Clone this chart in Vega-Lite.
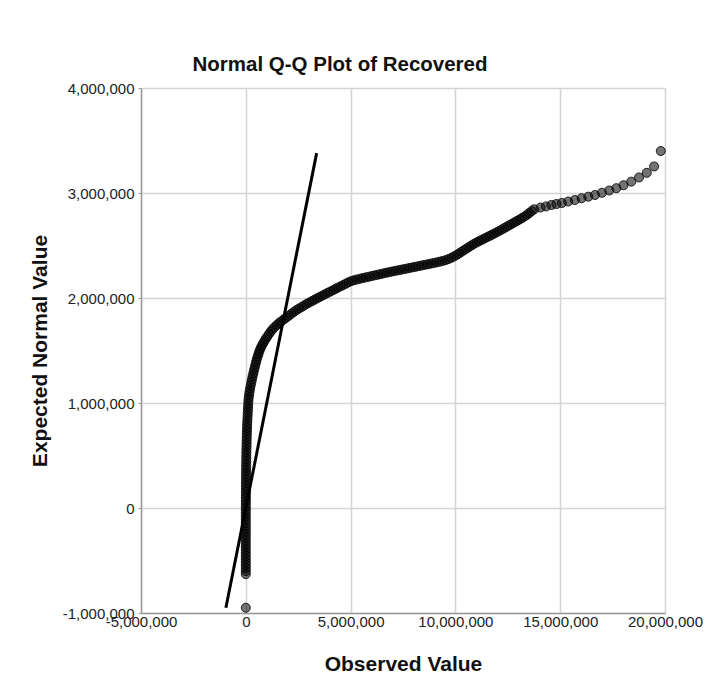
{
  "$schema": "https://vega.github.io/schema/vega-lite/v6.json",
  "autosize": {"type": "none"},
  "width": 524,
  "height": 525,
  "padding": {"left": 141, "top": 88, "right": 40, "bottom": 76},
  "background": "white",
  "title": {
    "text": "Normal Q-Q Plot of Recovered",
    "font": "Liberation Sans",
    "fontSize": 20.5,
    "fontWeight": "bold",
    "color": "#111111",
    "anchor": "middle",
    "dx": -63,
    "offset": 6
  },
  "config": {
    "view": {"stroke": null},
    "axis": {
      "labelFont": "Liberation Sans",
      "labelFontSize": 15,
      "labelColor": "#222222",
      "labelOverlap": false,
      "labelBound": false,
      "labelFlush": false,
      "titleFont": "Liberation Sans",
      "titleFontSize": 21,
      "titleFontWeight": "bold",
      "titleColor": "#111111",
      "domainColor": "#9a9a9a",
      "domainWidth": 1.5,
      "gridColor": "#d4d4d4",
      "gridWidth": 1.5,
      "tickColor": "#9a9a9a"
    }
  },
  "datasets": {
    "refline": [
      {"obs": -950000, "exp": -950000},
      {"obs": 3380000, "exp": 3380000}
    ],
    "qq": [
      {"obs":0,"exp":-950000},
      {"obs":0,"exp":-630000},{"obs":0,"exp":-601000},{"obs":0,"exp":-572000},{"obs":0,"exp":-543000},{"obs":0,"exp":-514000},{"obs":0,"exp":-485000},{"obs":0,"exp":-456000},{"obs":0,"exp":-427000},{"obs":0,"exp":-398000},{"obs":0,"exp":-369000},{"obs":0,"exp":-340000},{"obs":0,"exp":-311000},{"obs":0,"exp":-282000},{"obs":0,"exp":-253000},{"obs":0,"exp":-224000},{"obs":0,"exp":-195000},{"obs":0,"exp":-166000},{"obs":0,"exp":-137000},{"obs":0,"exp":-108000},{"obs":0,"exp":-79000},{"obs":0,"exp":-50000},{"obs":0,"exp":-21000},
      {"obs":1000,"exp":8000},{"obs":2000,"exp":37000},{"obs":3000,"exp":66000},{"obs":4000,"exp":95000},{"obs":5000,"exp":124000},{"obs":6000,"exp":153000},{"obs":7000,"exp":182000},{"obs":8000,"exp":211000},{"obs":9000,"exp":240000},{"obs":10000,"exp":269000},{"obs":12000,"exp":298000},{"obs":13000,"exp":327000},{"obs":15000,"exp":356000},{"obs":17000,"exp":385000},{"obs":19000,"exp":414000},{"obs":21000,"exp":443000},{"obs":23000,"exp":472000},{"obs":25000,"exp":501000},{"obs":28000,"exp":530000},{"obs":31000,"exp":559000},{"obs":34000,"exp":588000},{"obs":37000,"exp":617000},{"obs":41000,"exp":646000},{"obs":45000,"exp":675000},{"obs":49000,"exp":704000},{"obs":54000,"exp":733000},{"obs":59000,"exp":762000},{"obs":65000,"exp":791000},{"obs":71000,"exp":820000},{"obs":78000,"exp":849000},{"obs":85000,"exp":878000},{"obs":93000,"exp":907000},{"obs":101000,"exp":936000},{"obs":110000,"exp":965000},{"obs":119000,"exp":994000},
      {"obs":125000,"exp":1023000},{"obs":140000,"exp":1052000},{"obs":160000,"exp":1081000},{"obs":180000,"exp":1110000},{"obs":205000,"exp":1139000},{"obs":235000,"exp":1168000},{"obs":265000,"exp":1197000},{"obs":295000,"exp":1226000},{"obs":325000,"exp":1254000},{"obs":358000,"exp":1282000},{"obs":390000,"exp":1310000},{"obs":425000,"exp":1338000},{"obs":460000,"exp":1366000},{"obs":495000,"exp":1393000},
      {"obs":530000,"exp":1420000},{"obs":570000,"exp":1445000},{"obs":610000,"exp":1470000},{"obs":650000,"exp":1495000},{"obs":700000,"exp":1518000},{"obs":750000,"exp":1540000},{"obs":810000,"exp":1563000},{"obs":880000,"exp":1587000},{"obs":950000,"exp":1610000},{"obs":1020000,"exp":1632000},{"obs":1100000,"exp":1655000},{"obs":1180000,"exp":1678000},{"obs":1270000,"exp":1700000},{"obs":1370000,"exp":1722000},{"obs":1480000,"exp":1743000},{"obs":1590000,"exp":1763000},
      {"obs":1700000,"exp":1779000},{"obs":1820000,"exp":1797000},{"obs":1930000,"exp":1813000},{"obs":2050000,"exp":1831000},{"obs":2170000,"exp":1849000},{"obs":2290000,"exp":1867000},{"obs":2420000,"exp":1886000},{"obs":2540000,"exp":1900000},{"obs":2670000,"exp":1915000},{"obs":2790000,"exp":1930000},{"obs":2920000,"exp":1945000},{"obs":3040000,"exp":1958000},{"obs":3170000,"exp":1972000},{"obs":3290000,"exp":1985000},{"obs":3410000,"exp":1998000},{"obs":3530000,"exp":2010000},
      {"obs":3660000,"exp":2023000},{"obs":3780000,"exp":2036000},{"obs":3910000,"exp":2049000},{"obs":4030000,"exp":2061000},{"obs":4160000,"exp":2074000},{"obs":4280000,"exp":2087000},{"obs":4400000,"exp":2099000},{"obs":4530000,"exp":2112000},{"obs":4650000,"exp":2124000},{"obs":4780000,"exp":2137000},{"obs":4900000,"exp":2150000},
      {"obs":5040000,"exp":2162000},{"obs":5180000,"exp":2170000},{"obs":5320000,"exp":2177000},{"obs":5460000,"exp":2184000},{"obs":5600000,"exp":2191000},{"obs":5740000,"exp":2197000},{"obs":5880000,"exp":2203000},{"obs":6020000,"exp":2210000},{"obs":6160000,"exp":2216000},{"obs":6300000,"exp":2222000},{"obs":6440000,"exp":2228000},{"obs":6580000,"exp":2235000},{"obs":6720000,"exp":2241000},{"obs":6860000,"exp":2247000},{"obs":7000000,"exp":2253000},{"obs":7140000,"exp":2259000},{"obs":7280000,"exp":2264000},{"obs":7420000,"exp":2270000},{"obs":7560000,"exp":2275000},{"obs":7700000,"exp":2281000},{"obs":7840000,"exp":2287000},{"obs":7980000,"exp":2293000},{"obs":8120000,"exp":2298000},{"obs":8260000,"exp":2304000},{"obs":8400000,"exp":2310000},{"obs":8540000,"exp":2316000},{"obs":8680000,"exp":2321000},{"obs":8820000,"exp":2327000},{"obs":8960000,"exp":2333000},{"obs":9100000,"exp":2339000},{"obs":9240000,"exp":2345000},{"obs":9380000,"exp":2352000},{"obs":9520000,"exp":2360000},{"obs":9660000,"exp":2370000},{"obs":9800000,"exp":2382000},{"obs":9930000,"exp":2395000},
      {"obs":10060000,"exp":2410000},{"obs":10180000,"exp":2425000},{"obs":10300000,"exp":2441000},{"obs":10420000,"exp":2457000},{"obs":10540000,"exp":2472000},{"obs":10660000,"exp":2487000},{"obs":10780000,"exp":2502000},{"obs":10900000,"exp":2517000},{"obs":11020000,"exp":2530000},{"obs":11140000,"exp":2542000},{"obs":11260000,"exp":2554000},{"obs":11380000,"exp":2566000},{"obs":11500000,"exp":2578000},{"obs":11620000,"exp":2590000},{"obs":11740000,"exp":2602000},{"obs":11860000,"exp":2614000},{"obs":11980000,"exp":2627000},{"obs":12100000,"exp":2640000},{"obs":12220000,"exp":2653000},{"obs":12340000,"exp":2667000},{"obs":12460000,"exp":2680000},{"obs":12580000,"exp":2694000},{"obs":12700000,"exp":2707000},{"obs":12820000,"exp":2721000},{"obs":12940000,"exp":2734000},{"obs":13060000,"exp":2748000},{"obs":13180000,"exp":2762000},{"obs":13300000,"exp":2777000},{"obs":13420000,"exp":2793000},{"obs":13530000,"exp":2810000},{"obs":13640000,"exp":2828000},
      {"obs":13760000,"exp":2845000},{"obs":14060000,"exp":2862000},{"obs":14320000,"exp":2872000},{"obs":14580000,"exp":2886000},{"obs":14820000,"exp":2895000},{"obs":15080000,"exp":2905000},{"obs":15380000,"exp":2919000},{"obs":15700000,"exp":2933000},{"obs":16020000,"exp":2950000},{"obs":16340000,"exp":2965000},{"obs":16660000,"exp":2981000},{"obs":16990000,"exp":3002000},{"obs":17340000,"exp":3024000},{"obs":17680000,"exp":3046000},{"obs":18020000,"exp":3074000},{"obs":18390000,"exp":3108000},{"obs":18760000,"exp":3148000},{"obs":19130000,"exp":3192000},{"obs":19480000,"exp":3253000},{"obs":19800000,"exp":3400000}
    ]
  },
  "encoding": {
    "x": {
      "field": "obs",
      "type": "quantitative",
      "title": "Observed Value",
      "scale": {"domain": [-5000000, 20000000], "nice": false, "zero": false},
      "axis": {
        "values": [-5000000, 0, 5000000, 10000000, 15000000, 20000000],
        "labelExpr": "replace(format(datum.value, ',.0f'), '\u2212', '-')",
        "tickSize": 0,
        "labelPadding": 1,
        "titlePadding": 24
      }
    },
    "y": {
      "field": "exp",
      "type": "quantitative",
      "title": "Expected Normal Value",
      "scale": {"domain": [-1000000, 4000000], "nice": false, "zero": false},
      "axis": {
        "values": [-1000000, 0, 1000000, 2000000, 3000000, 4000000],
        "labelExpr": "replace(format(datum.value, ',.0f'), '\u2212', '-')",
        "tickSize": 3,
        "labelPadding": 4,
        "titlePadding": 12
      }
    }
  },
  "layer": [
    {
      "data": {"name": "qq"},
      "mark": {
        "type": "circle",
        "size": 82,
        "fill": "#000000",
        "fillOpacity": 0.55,
        "stroke": "#000000",
        "strokeOpacity": 0.8,
        "strokeWidth": 1
      }
    },
    {
      "data": {"name": "refline"},
      "mark": {"type": "line", "color": "#000000", "strokeWidth": 3, "strokeCap": "butt"}
    }
  ]
}
